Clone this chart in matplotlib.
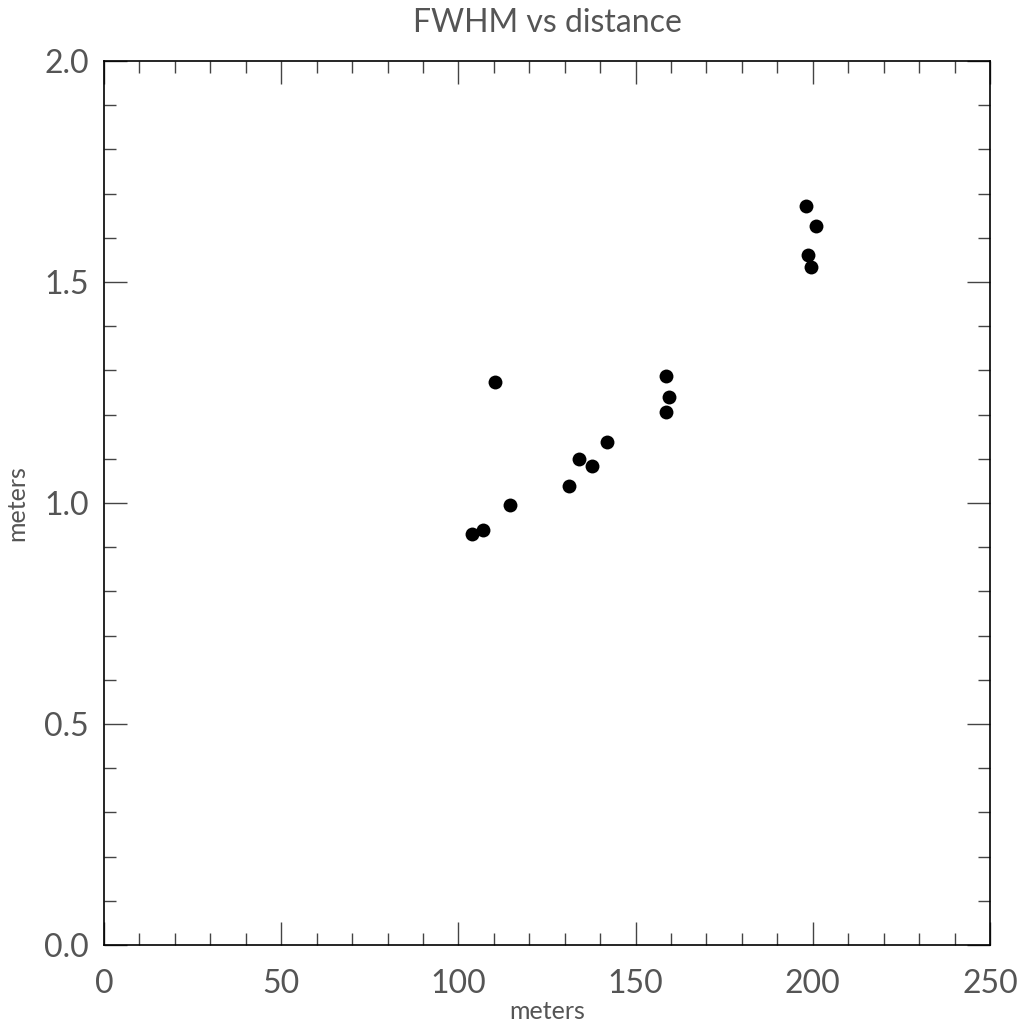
import numpy as np
import matplotlib
matplotlib.use('Agg')
import matplotlib.pyplot as plt
from matplotlib.ticker import MultipleLocator

# FWHM measurements against target distance
distance = [103.8, 106.9, 110.3, 114.6, 131.3, 134.1, 137.7, 141.8,
            158.7, 159.3, 158.7, 198.0, 200.9, 198.6, 199.4]
fwhm = [0.930, 0.939, 1.274, 0.995, 1.038, 1.100, 1.084, 1.139,
        1.287, 1.240, 1.207, 1.671, 1.626, 1.562, 1.534]

plt.rcParams['font.family'] = ['Lato', 'DejaVu Sans']

txt = '#555555'

fig = plt.figure(figsize=(10.24, 10.30), dpi=100)
ax = fig.add_axes([104/1024, 1 - 945/1030, 886/1024, 884/1030])

ax.plot(distance, fwhm, 'o', color='black', markersize=10, markeredgewidth=0)

ax.set_xlim(0, 250)
ax.set_ylim(0, 2.0)
ax.xaxis.set_major_locator(MultipleLocator(50))
ax.xaxis.set_minor_locator(MultipleLocator(10))
ax.yaxis.set_major_locator(MultipleLocator(0.5))
ax.yaxis.set_minor_locator(MultipleLocator(0.1))
ax.xaxis.set_major_formatter(plt.FuncFormatter(lambda v, p: f'{v:.0f}'))
ax.yaxis.set_major_formatter(plt.FuncFormatter(lambda v, p: f'{v:.1f}'))

ax.tick_params(which='both', direction='in', top=True, right=True,
               width=1, color='#444444', labelsize=23, labelcolor=txt)
ax.tick_params(which='major', length=16.5)
ax.tick_params(which='minor', length=8.5)
ax.tick_params(axis='x', which='major', pad=17)
ax.tick_params(axis='y', which='major', pad=11)
for s in ax.spines.values():
    s.set_linewidth(1.2)

ax.set_title('FWHM vs distance', fontsize=23, color=txt, pad=21)
ax.set_xlabel('meters', fontsize=18, color=txt, labelpad=1)
ax.set_ylabel('meters', fontsize=18, color=txt, labelpad=11)

fig.savefig('out.png', dpi=100)
